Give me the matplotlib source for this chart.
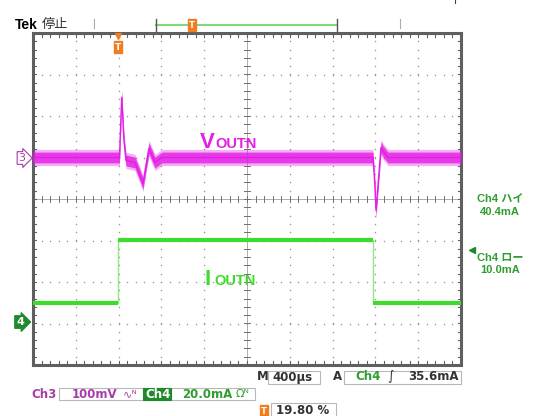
import matplotlib
matplotlib.use("Agg")
import matplotlib.pyplot as plt
import numpy as np

W, H = 549, 416
# screen (graticule) in pixels
x0, x1, y0, y1 = 33, 461, 33, 365

# scope settings
t_per_div = 400.0      # us/div
ch3_per_div = 100.0    # mV/div
ch4_per_div = 20.0     # mA/div
ch3_pos = 1.0          # div
ch4_pos = -3.0         # div
trig_level = 35.6      # mA

# Ch3 (Vout, AC coupled)
ch3_t_us = [0, 794, 808, 829, 850, 869, 953, 1000, 1028, 1056, 1084, 1112, 1140, 1206,
            3178, 3192, 3206, 3224, 3252, 3280, 3318, 4000]
ch3_mv = [0, 0, 0, 145, 41, -7, -12, -43, -63, -19, 22, 5, -12, 0,
          0, -55, -128, -67, 24, 12, 0, 0]
ch3_noise_mv = 13

# Ch4 (Iout) step
ch4_t_us = [0, 795, 795, 3178, 3178, 4000]
ch4_ma = [10.0, 10.0, 40.4, 40.4, 10.0, 10.0]

magenta = '#e41ee4'
green = '#3ddc2a'
dgreen = '#2e9e2e'
purple = '#a83ca8'
orange = '#f07d1e'
gray = '#5f5f5f'

fig = plt.figure(figsize=(W / 100, H / 100), dpi=100)
fig.patch.set_facecolor('white')
ax = fig.add_axes([x0 / W, 1 - y1 / H, (x1 - x0) / W, (y1 - y0) / H])
ax.set_xlim(0, 10)
ax.set_ylim(-4, 4)
ax.set_xticks([])
ax.set_yticks([])
for s in ax.spines.values():
    s.set_color(gray)
    s.set_linewidth(2.2)

# graticule
minor = np.arange(0, 10.01, 0.2)
minor_y = np.arange(-4, 4.01, 0.2)
for k in range(1, 10):
    if k == 5:
        continue
    ax.scatter(np.full(len(minor_y), k), minor_y, s=1.2, c='#9a9a9a', lw=0, zorder=1)
for k in range(-3, 4):
    if k == 0:
        continue
    ax.scatter(minor, np.full(len(minor), k), s=1.2, c='#9a9a9a', lw=0, zorder=1)
ax.axhline(0, color='#a0a0a0', lw=0.6, zorder=1)
ax.axvline(5, color='#a0a0a0', lw=0.6, zorder=1)
for xm in minor:
    ax.plot([xm, xm], [-0.08, 0.08], color='#707070', lw=0.7, zorder=1)
    ax.plot([xm, xm], [-4, -3.9], color=gray, lw=0.8, zorder=1)
    ax.plot([xm, xm], [4, 3.9], color=gray, lw=0.8, zorder=1)
for ym in minor_y:
    ax.plot([4.93, 5.07], [ym, ym], color='#707070', lw=0.7, zorder=1)
    ax.plot([0, 0.08], [ym, ym], color=gray, lw=0.8, zorder=1)
    ax.plot([10, 9.92], [ym, ym], color=gray, lw=0.8, zorder=1)

# Ch3 trace
t3 = np.array(ch3_t_us) / t_per_div
v3 = np.array(ch3_mv) / ch3_per_div + ch3_pos
nz = ch3_noise_mv / ch3_per_div
ax.fill_between(t3, v3 - 1.5 * nz, v3 + 1.5 * nz, color=magenta, alpha=0.35, lw=0, zorder=3)
ax.fill_between(t3, v3 - nz, v3 + nz, color=magenta, alpha=0.8, lw=0, zorder=3)
ax.plot(t3, v3, color=magenta, lw=1.0, zorder=4)

# Ch4 trace
t4 = np.array(ch4_t_us) / t_per_div
i4 = np.array(ch4_ma) / ch4_per_div + ch4_pos
ax.plot(t4, i4, color='#8ee880', lw=1.0, zorder=3)
for i in range(len(t4) - 1):
    if ch4_ma[i] == ch4_ma[i + 1]:
        ax.plot(t4[i:i + 2], i4[i:i + 2], color=green, lw=3.0, zorder=4,
                solid_capstyle='butt')

jp = ['Liberation Sans', 'Noto Sans CJK JP', 'DejaVu Sans']


def ftext(x, y, s, **kw):
    return fig.text(x / W, 1 - y / H, s, **kw)


ftext(200, 148, 'V', color=magenta, fontsize=16, fontweight='bold',
      family='Liberation Sans', va='baseline')
ftext(215, 148, 'OUTN', color=magenta, fontsize=10.5, fontweight='bold',
      family='Liberation Sans', va='baseline')
ftext(205, 285, 'I', color=green, fontsize=16, fontweight='bold',
      family='Liberation Sans', va='baseline')
ftext(214, 285, 'OUTN', color=green, fontsize=10.5, fontweight='bold',
      family='Liberation Sans', va='baseline')

# channel markers
ftext(22, 158, '3', color=purple, fontsize=8, family='DejaVu Sans', ha='center',
      va='center', bbox=dict(boxstyle='rarrow,pad=0.12', fc='white', ec=purple, lw=0.8))
ftext(20, 322, '4', color='white', fontsize=8, fontweight='bold', family='DejaVu Sans',
      ha='center', va='center',
      bbox=dict(boxstyle='rarrow,pad=0.12', fc='#1f8a2a', ec='#1f8a2a', lw=0.8))

# trigger level arrow on the right
ax.plot([10.25], [trig_level / ch4_per_div + ch4_pos], marker='<', ms=4,
        color='#1f8a2a', clip_on=False)

# trigger position marker on top of screen
ax.plot([795 / t_per_div], [3.93], marker='v', ms=5, color=orange, clip_on=False, zorder=6)
ftext(118, 47, 'T', color='white', fontsize=6.5, fontweight='bold', ha='center', va='center',
      family='DejaVu Sans', bbox=dict(boxstyle='square,pad=0.15', fc=orange, ec=orange))

# top bar
ftext(15, 25, 'Tek', fontsize=10, fontweight='bold', family='Liberation Sans', va='center')
ftext(42, 25, '停止', fontsize=9.5, family=jp, va='center', color='#333333')
for xb in [94, 400]:
    fig.add_artist(plt.Line2D([xb / W, xb / W], [1 - 19 / H, 1 - 28 / H], color='#aaaaaa', lw=0.8))
fig.add_artist(plt.Line2D([156 / W, 337 / W], [1 - 25 / H, 1 - 25 / H], color='#7fd87f', lw=1.5))
for xb in [156, 337]:
    fig.add_artist(plt.Line2D([xb / W, xb / W], [1 - 19 / H, 1 - 31 / H], color='#555555', lw=1.0))
ftext(192, 25, 'T', color='white', fontsize=6, fontweight='bold', ha='center', va='center',
      family='DejaVu Sans', bbox=dict(boxstyle='square,pad=0.15', fc=orange, ec=orange))
fig.add_artist(plt.Line2D([455 / W, 455 / W], [1 - 0 / H, 1 - 3 / H], color='#444444', lw=0.8))

# right readouts
rkw = dict(color=dgreen, fontsize=8, family=jp, ha='center', va='center', fontweight='bold')
ftext(500, 199, 'Ch4 ハイ', **rkw)
ftext(500, 212, '40.4mA', **rkw)
ftext(500, 258, 'Ch4 ロー', **rkw)
ftext(500, 270, '10.0mA', **rkw)

# bottom readouts
bfont = dict(fontsize=8.5, fontweight='bold', family=['DejaVu Sans'], va='center')


def box(xa, xb, ya, yb, ec='#b8b8b8', fc='none'):
    fig.add_artist(plt.Rectangle((xa / W, 1 - yb / H), (xb - xa) / W, (yb - ya) / H,
                                 fc=fc, ec=ec, lw=0.8))


ftext(257, 377, 'M', color='#333333', **bfont)
box(268, 320, 371, 384)
ftext(272, 377, '400µs', color='#333333', **bfont)
ftext(333, 377, 'A', color='#333333', **bfont)
box(344, 461, 371, 384)
ftext(355, 377, 'Ch4', color=dgreen, **bfont)
ftext(387, 377, '∫', color='#333333', fontsize=9, family='DejaVu Sans', va='center')
ftext(408, 377, '35.6mA', color='#333333', **bfont)

ftext(31, 394, 'Ch3', color=purple, **bfont)
box(59, 255, 388, 400)
ftext(72, 394, '100mV', color=purple, **bfont)
ftext(123, 394, '∿ᴺ', color=purple, fontsize=8, family='DejaVu Sans', va='center')
box(143, 171, 388, 400, ec='#1f8a2a', fc='#1f8a2a')
ftext(145, 394, 'Ch4', color='white', **bfont)
ftext(182, 394, '20.0mA', color=dgreen, **bfont)
ftext(236, 394, 'Ωᴺ', color=dgreen, fontsize=8, family='DejaVu Sans', va='center')

ftext(264, 411, 'T', color='white', fontsize=6, fontweight='bold', ha='center', va='center',
      family='DejaVu Sans', bbox=dict(boxstyle='square,pad=0.15', fc=orange, ec=orange))
box(271, 336, 403, 419)
ftext(276, 411, '19.80 %', color='#333333', **bfont)

fig.savefig('out.png', dpi=100, facecolor='white')
